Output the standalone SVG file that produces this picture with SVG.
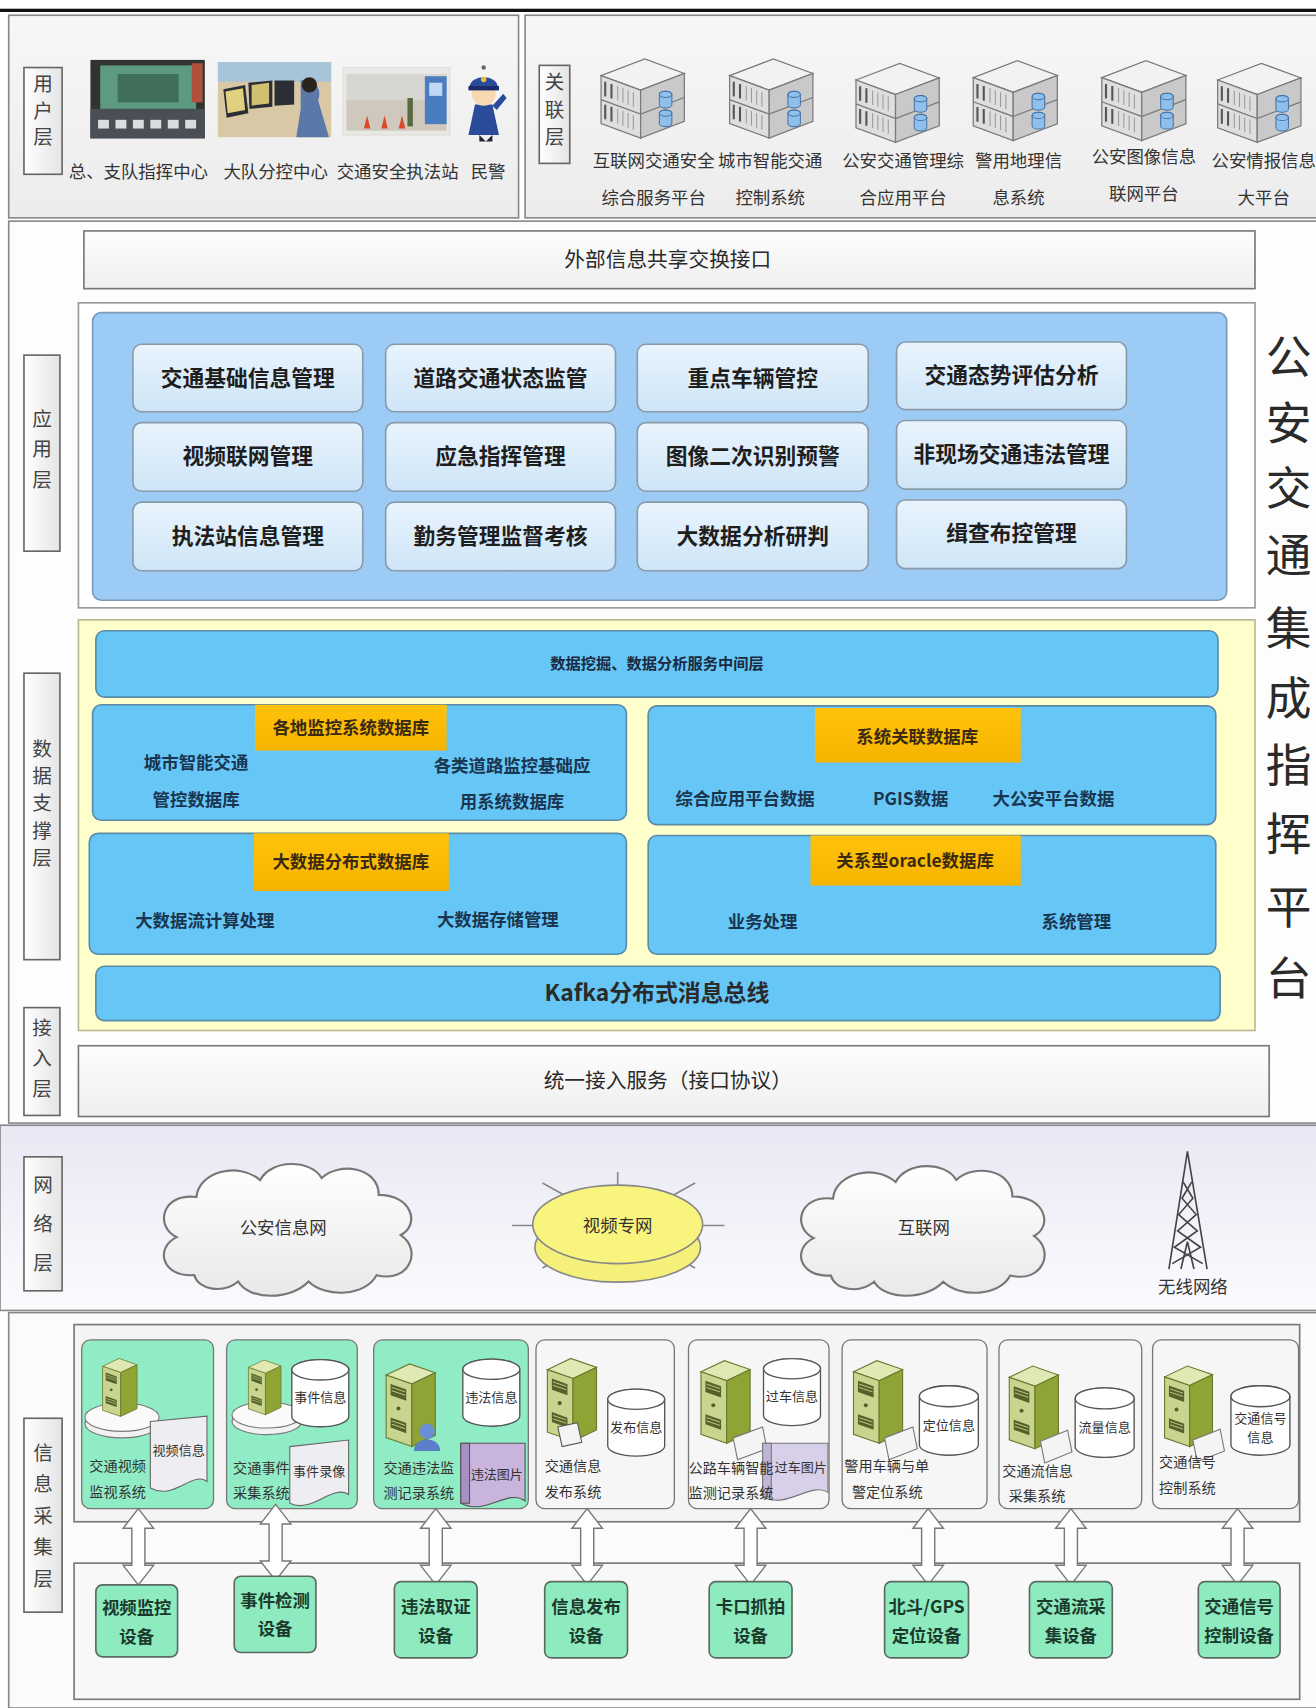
<svg xmlns="http://www.w3.org/2000/svg" width="1316" height="1708" viewBox="0 0 1316 1708">
<style>
text{font-family:"Noto Sans CJK SC","Noto Sans CJK TC",sans-serif;fill:#2a2a2a}
.lbl{font-size:16px;fill:#333}
.side{font-size:18px;fill:#444;text-anchor:middle}
.mod{font-size:20px;font-weight:bold;text-anchor:middle;fill:#1e1e1e}
.db{font-size:16px;font-weight:bold;fill:#1a3550}
.dbc{font-size:16px;font-weight:bold;fill:#1a3550;text-anchor:middle}
.org{font-size:16px;font-weight:bold;fill:#3a2a10;text-anchor:middle}
.bar{font-size:14px;font-weight:bold;text-anchor:middle;fill:#1a2a40}
.sys{font-size:13px;fill:#333}
.sysc{font-size:12px;fill:#333;text-anchor:middle}
.dev{font-size:16px;font-weight:bold;fill:#1c3a2c;text-anchor:middle}
.ctr{text-anchor:middle}
.sidebox{fill:url(#gSide);stroke:#666;stroke-width:1.5}
.modbox{fill:url(#gMod);stroke:#8a9aa8;stroke-width:1.5}
.sysbox{stroke:#777;stroke-width:1.2}
.green{fill:#8fecc4}
.grey{fill:#f6f6f6}
.devbox{fill:#8eebc0;stroke:#5a6a60;stroke-width:1.5}
.arr{fill:#fff;stroke:#777;stroke-width:1.3}
</style>
<defs>
<linearGradient id="gSide" x1="0" y1="0" x2="1" y2="0"><stop offset="0" stop-color="#ffffff"/><stop offset="1" stop-color="#e4e4e4"/></linearGradient>
<linearGradient id="gMod" x1="0" y1="0" x2="0" y2="1"><stop offset="0" stop-color="#e8f4fd"/><stop offset="1" stop-color="#cfe5f7"/></linearGradient>
<linearGradient id="gTop" x1="0" y1="0" x2="0" y2="1"><stop offset="0" stop-color="#f7f7f7"/><stop offset="1" stop-color="#ececec"/></linearGradient>
<linearGradient id="gNet" x1="0" y1="0" x2="0" y2="1"><stop offset="0" stop-color="#e8e8f4"/><stop offset="1" stop-color="#fbfbfe"/></linearGradient>
<linearGradient id="gBar" x1="0" y1="0" x2="0" y2="1"><stop offset="0" stop-color="#fdfdfd"/><stop offset="1" stop-color="#efefef"/></linearGradient>
<linearGradient id="gOrg" x1="0" y1="0" x2="0" y2="1"><stop offset="0" stop-color="#ffc20a"/><stop offset="1" stop-color="#f5b400"/></linearGradient>
<linearGradient id="gCloud" x1="0" y1="0" x2="0" y2="1"><stop offset="0" stop-color="#ffffff"/><stop offset="1" stop-color="#e9e9e9"/></linearGradient>
<symbol id="rack" viewBox="0 0 90 85" overflow="visible">
<path d="M6,22 L48,6 L86,20 L44,36 Z" fill="#f2f2f2" stroke="#7a7a7a" stroke-width="1.2"/>
<path d="M6,22 L44,36 L44,82 L6,68 Z" fill="#dedede" stroke="#7a7a7a" stroke-width="1.2"/>
<path d="M44,36 L86,20 L86,66 L44,82 Z" fill="#c9c9c9" stroke="#7a7a7a" stroke-width="1.2"/>
<path d="M6,45 L44,59 L86,43" fill="none" stroke="#7a7a7a" stroke-width="1.2"/>
<path d="M10,28 L10,42 M10,50 L10,64 M16,30 L16,44 M16,52 L16,66" stroke="#555" stroke-width="2"/>
<path d="M22,32 L22,46 M27,34 L27,48 M32,36 L32,50 M37,38 L37,52 M22,54 L22,68 M27,56 L27,70 M32,58 L32,72 M37,60 L37,74" stroke="#9a9a9a" stroke-width="1"/>
<g fill="#8fc0ec" stroke="#4a72a8" stroke-width="1"><path d="M62,40 a6,3 0 0 1 12,0 v10 a6,3 0 0 1 -12,0 Z"/><path d="M62,58 a6,3 0 0 1 12,0 v10 a6,3 0 0 1 -12,0 Z"/></g>
<g fill="none" stroke="#4a72a8" stroke-width="1"><ellipse cx="68" cy="40" rx="6" ry="3"/><ellipse cx="68" cy="58" rx="6" ry="3"/></g>
</symbol>
<symbol id="tower" viewBox="0 0 50 80" overflow="visible">
<path d="M3,14 L24,4 L47,12 L26,22 Z" fill="#e0e8b4" stroke="#6a7a30" stroke-width="1"/>
<path d="M3,14 L26,22 L26,78 L3,70 Z" fill="#c9d58e" stroke="#6a7a30" stroke-width="1"/>
<path d="M26,22 L47,12 L47,68 L26,78 Z" fill="#8ea434" stroke="#6a7a30" stroke-width="1"/>
<path d="M7,22 L21,27 L21,37 L7,32 Z M7,52 L21,57 L21,66 L7,61 Z" fill="#55602a"/>
<path d="M8,25 L20,29 M8,28 L20,32 M8,55 L20,59 M8,58 L20,62" stroke="#c9d58e" stroke-width="0.8"/>
<circle cx="14" cy="44" r="1.8" fill="#55602a"/>
</symbol>
<symbol id="cyl" viewBox="0 0 60 70" overflow="visible">
<path d="M2,12 A28,10 0 0 1 58,12 L58,58 A28,10 0 0 1 2,58 Z" fill="#fff" stroke="#555" stroke-width="1.3"/>
<ellipse cx="30" cy="12" rx="28" ry="10" fill="#fff" stroke="#555" stroke-width="1.3"/>
</symbol>
<symbol id="cloud" viewBox="0 0 240 130" preserveAspectRatio="none" overflow="visible">
<path d="M36,110 C6,112 0,84 20,74 C0,64 6,32 38,36 C40,12 76,2 96,20 C106,0 142,0 152,18 C168,2 204,8 204,34 C234,34 242,62 224,72 C244,86 232,118 202,110 C192,130 156,132 140,116 C124,134 86,134 76,116 C62,128 40,124 36,110 Z" fill="url(#gCloud)" stroke="#777" stroke-width="2"/>
</symbol>
<path id="darr" d="M0,0 L14,18 L6,18 L6,52 L14,52 L0,70 L-14,52 L-6,52 L-6,18 L-14,18 Z"/>
</defs>

<rect x="0" y="0" width="1316" height="1708" fill="#ffffff"/>
<g transform="scale(1.0894 1.0893)">
<rect x="0" y="8" width="1208" height="3" fill="#111"/>

<g id="user-layer">
<rect x="8" y="14" width="468" height="186" fill="url(#gTop)" stroke="#888" stroke-width="1.5"/>
<rect x="22" y="62" width="35" height="98" class="sidebox"/>
<text class="side"><tspan x="39.5" y="84">用</tspan><tspan x="39.5" y="108">户</tspan><tspan x="39.5" y="132">层</tspan></text>
<g id="img-center">
<rect x="83" y="55" width="105" height="72" fill="#2f3430"/>
<rect x="92" y="60" width="88" height="40" fill="#5e9a80"/>
<rect x="108" y="68" width="56" height="26" fill="#3f6f58"/>
<rect x="83" y="100" width="105" height="27" fill="#4a4f55"/>
<g fill="#d8dde0"><rect x="90" y="110" width="10" height="8"/><rect x="106" y="110" width="10" height="8"/><rect x="122" y="110" width="10" height="8"/><rect x="138" y="110" width="10" height="8"/><rect x="154" y="110" width="10" height="8"/><rect x="170" y="110" width="10" height="8"/></g>
<rect x="176" y="58" width="10" height="36" fill="#b0503a"/>
</g>
<g id="img-sub">
<rect x="200" y="57" width="104" height="69" fill="#d9c8a6"/>
<rect x="200" y="57" width="104" height="18" fill="#a8c4d8"/>
<path d="M205,82 L225,78 L228,104 L208,108 Z" fill="#2b2f35"/>
<path d="M228,76 L250,74 L250,98 L229,100 Z" fill="#2b2f35"/>
<path d="M252,74 L270,74 L270,96 L252,97 Z" fill="#2b2f35"/>
<path d="M207,84 L223,81 L225,101 L209,104 Z" fill="#e0d080"/>
<path d="M231,78 L247,76 L247,95 L231,97 Z" fill="#d0c070"/>
<path d="M276,74 C290,70 296,84 292,92 L302,126 L272,126 L276,100 Z" fill="#5a78a8"/>
<circle cx="284" cy="78" r="7" fill="#2a2420"/>
</g>
<g id="img-station">
<rect x="315" y="62" width="98" height="62" fill="#eae8e4" stroke="#ddd"/>
<rect x="318" y="68" width="92" height="24" fill="#d8d6d2"/>
<rect x="318" y="92" width="92" height="28" fill="#cfc8bc"/>
<rect x="390" y="70" width="20" height="44" fill="#4a7cc0"/>
<rect x="394" y="76" width="12" height="12" fill="#c0d8f4"/>
<g fill="#d84a2a"><path d="M334,118 l3,-12 l3,12 Z"/><path d="M350,118 l3,-12 l3,12 Z"/><path d="M366,118 l3,-12 l3,12 Z"/></g>
<rect x="374" y="90" width="5" height="26" fill="#5a6a40"/>
</g>
<g id="img-police">
<path d="M436,96 L452,96 L458,124 L430,124 Z" fill="#2a4a9a"/>
<path d="M440,124 L440,130 L446,130 Z M452,124 L452,130 L446,130 Z" fill="#223"/>
<circle cx="444" cy="86" r="11" fill="#f8d8b0"/>
<path d="M431,80 C432,68 456,68 457,80 Z" fill="#2a4a9a"/>
<rect x="430" y="79" width="28" height="4" fill="#1a2a6a"/>
<circle cx="444" cy="73" r="2.5" fill="#e8c040"/>
<path d="M452,97 L462,86 L465,90 L456,101 Z" fill="#2a4a9a"/>
<circle cx="444" cy="62" r="2" fill="#666"/>
</g>
<text class="lbl ctr" x="127" y="163">总、支队指挥中心</text>
<text class="lbl ctr" x="253" y="163">大队分控中心</text>
<text class="lbl ctr" x="365" y="163">交通安全执法站</text>
<text class="lbl ctr" x="448" y="163">民警</text>
</g>

<g id="related-layer">
<rect x="482" y="14" width="730" height="186" fill="url(#gTop)" stroke="#888" stroke-width="1.5"/>
<rect x="495" y="60" width="28" height="90" class="sidebox"/>
<text class="side"><tspan x="509" y="82">关</tspan><tspan x="509" y="107">联</tspan><tspan x="509" y="132">层</tspan></text>
<use href="#rack" x="546" y="48" width="86" height="82"/>
<use href="#rack" x="664" y="48" width="86" height="82"/>
<use href="#rack" x="780" y="52" width="86" height="82"/>
<use href="#rack" x="886" y="50" width="90" height="82"/>
<use href="#rack" x="1005" y="50" width="88" height="82"/>
<use href="#rack" x="1112" y="52" width="86" height="82"/>
<text class="lbl ctr" x="600" y="153">互联网交通安全</text><text class="lbl ctr" x="600" y="187">综合服务平台</text>
<text class="lbl ctr" x="707" y="153">城市智能交通</text><text class="lbl ctr" x="707" y="187">控制系统</text>
<text class="lbl ctr" x="829" y="153">公安交通管理综</text><text class="lbl ctr" x="829" y="187">合应用平台</text>
<text class="lbl ctr" x="935" y="153">警用地理信</text><text class="lbl ctr" x="935" y="187">息系统</text>
<text class="lbl ctr" x="1050" y="150">公安图像信息</text><text class="lbl ctr" x="1050" y="184">联网平台</text>
<text class="lbl ctr" x="1160" y="153">公安情报信息</text><text class="lbl ctr" x="1160" y="187">大平台</text>
</g>

<rect x="8" y="203" width="1204" height="828" fill="#fdfdfd" stroke="#888" stroke-width="1.5"/>

<g id="ext-interface">
<rect x="77" y="212" width="1075" height="53" fill="url(#gBar)" stroke="#777" stroke-width="1.5"/>
<text class="ctr" x="613" y="245" font-size="19">外部信息共享交换接口</text>
</g>

<g id="app-layer">
<rect x="72" y="278" width="1080" height="280" fill="#ffffff" stroke="#999" stroke-width="1.5"/>
<rect x="85" y="287" width="1041" height="264" rx="8" fill="#9ccbf5" stroke="#7a9ab8" stroke-width="1.5"/>
<rect x="22" y="326" width="33" height="180" class="sidebox"/>
<text class="side"><tspan x="38.5" y="391">应</tspan><tspan x="38.5" y="419">用</tspan><tspan x="38.5" y="447">层</tspan></text>
</g>
<g id="app-modules">
<rect x="122" y="316" width="211" height="62" rx="8" class="modbox"/><text class="mod" x="227.5" y="354">交通基础信息管理</text>
<rect x="354" y="316" width="211" height="62" rx="8" class="modbox"/><text class="mod" x="459.5" y="354">道路交通状态监管</text>
<rect x="585" y="316" width="212" height="62" rx="8" class="modbox"/><text class="mod" x="691" y="354">重点车辆管控</text>
<rect x="823" y="314" width="211" height="62" rx="8" class="modbox"/><text class="mod" x="928.5" y="352">交通态势评估分析</text>
<rect x="122" y="388" width="211" height="63" rx="8" class="modbox"/><text class="mod" x="227.5" y="426">视频联网管理</text>
<rect x="354" y="388" width="211" height="63" rx="8" class="modbox"/><text class="mod" x="459.5" y="426">应急指挥管理</text>
<rect x="585" y="388" width="212" height="63" rx="8" class="modbox"/><text class="mod" x="691" y="426">图像二次识别预警</text>
<rect x="823" y="386" width="211" height="63" rx="8" class="modbox"/><text class="mod" x="928.5" y="424">非现场交通违法管理</text>
<rect x="122" y="461" width="211" height="63" rx="8" class="modbox"/><text class="mod" x="227.5" y="499">执法站信息管理</text>
<rect x="354" y="461" width="211" height="63" rx="8" class="modbox"/><text class="mod" x="459.5" y="499">勤务管理监督考核</text>
<rect x="585" y="461" width="212" height="63" rx="8" class="modbox"/><text class="mod" x="691" y="499">大数据分析研判</text>
<rect x="823" y="459" width="211" height="63" rx="8" class="modbox"/><text class="mod" x="928.5" y="497">缉查布控管理</text>
</g>

<g id="platform-title">
<text class="ctr" font-size="42" fill="#111"><tspan x="1183" y="343">公</tspan><tspan x="1183" y="404">安</tspan><tspan x="1183" y="464">交</tspan><tspan x="1183" y="525">通</tspan><tspan x="1183" y="592">集</tspan><tspan x="1183" y="656">成</tspan><tspan x="1183" y="718">指</tspan><tspan x="1183" y="781">挥</tspan><tspan x="1183" y="848">平</tspan><tspan x="1183" y="913">台</tspan></text>
</g>

<g id="data-layer">
<rect x="72" y="569" width="1080" height="377" fill="#ffffcc" stroke="#b8b890" stroke-width="1.5"/>
<rect x="22" y="618" width="33" height="263" class="sidebox"/>
<text class="side"><tspan x="38.5" y="694">数</tspan><tspan x="38.5" y="719">据</tspan><tspan x="38.5" y="744">支</tspan><tspan x="38.5" y="769">撑</tspan><tspan x="38.5" y="794">层</tspan></text>
</g>
<g id="data-mining">
<rect x="88" y="579" width="1030" height="61" rx="8" fill="#66c7f7" stroke="#5a8aa8" stroke-width="1.5"/>
<text class="bar" x="603" y="614">数据挖掘、数据分析服务中间层</text>
</g>
<g id="db-local">
<rect x="85" y="647" width="490" height="106" rx="8" fill="#66c7f7" stroke="#5a8aa8" stroke-width="1.5"/>
<rect x="234" y="647" width="176" height="42" fill="url(#gOrg)"/>
<text class="org" x="322" y="674">各地监控系统数据库</text>
<text class="dbc" x="180" y="706">城市智能交通</text><text class="dbc" x="180" y="740">管控数据库</text>
<text class="dbc" x="470" y="709">各类道路监控基础应</text><text class="dbc" x="470" y="742">用系统数据库</text>
</g>
<g id="db-related">
<rect x="595" y="648" width="521" height="109" rx="8" fill="#66c7f7" stroke="#5a8aa8" stroke-width="1.5"/>
<rect x="748" y="650" width="189" height="50" fill="url(#gOrg)"/>
<text class="org" x="842" y="682">系统关联数据库</text>
<text class="dbc" x="684" y="739">综合应用平台数据</text>
<text class="dbc" x="836" y="739">PGIS数据</text>
<text class="dbc" x="967" y="739">大公安平台数据</text>
</g>
<g id="db-bigdata">
<rect x="82" y="765" width="493" height="111" rx="8" fill="#66c7f7" stroke="#5a8aa8" stroke-width="1.5"/>
<rect x="233" y="765" width="179" height="53" fill="url(#gOrg)"/>
<text class="org" x="322" y="797">大数据分布式数据库</text>
<text class="dbc" x="188" y="851">大数据流计算处理</text>
<text class="dbc" x="457" y="850">大数据存储管理</text>
</g>
<g id="db-oracle">
<rect x="595" y="767" width="521" height="109" rx="8" fill="#66c7f7" stroke="#5a8aa8" stroke-width="1.5"/>
<rect x="744" y="767" width="193" height="46" fill="url(#gOrg)"/>
<text class="org" x="840" y="796">关系型oracle数据库</text>
<text class="dbc" x="700" y="852">业务处理</text>
<text class="dbc" x="988" y="852">系统管理</text>
</g>
<g id="kafka">
<rect x="88" y="887" width="1032" height="50" rx="8" fill="#66c7f7" stroke="#5a8aa8" stroke-width="1.5"/>
<text class="ctr" x="603" y="919" font-size="21" font-weight="bold" fill="#1a2a40">Kafka分布式消息总线</text>
</g>

<g id="access-layer">
<rect x="22" y="925" width="33" height="99" class="sidebox"/>
<text class="side"><tspan x="38.5" y="950">接</tspan><tspan x="38.5" y="978">入</tspan><tspan x="38.5" y="1006">层</tspan></text>
<rect x="72" y="960" width="1093" height="65" fill="url(#gBar)" stroke="#777" stroke-width="1.5"/>
<text class="ctr" x="613" y="999" font-size="19" fill="#333">统一接入服务（接口协议）</text>
</g>

<g id="network-layer">
<rect x="0" y="1033" width="1212" height="170" fill="url(#gNet)" stroke="#888" stroke-width="1.5"/>
<rect x="22" y="1062" width="35" height="123" class="sidebox"/>
<text class="side"><tspan x="39.5" y="1094">网</tspan><tspan x="39.5" y="1130">络</tspan><tspan x="39.5" y="1166">层</tspan></text>
</g>
<g id="net-police">
<use href="#cloud" x="142" y="1064" width="242" height="126"/>
<text class="lbl ctr" x="260" y="1133">公安信息网</text>
</g>
<g id="net-video">
<g stroke="#888" stroke-width="1.5"><line x1="567" y1="1076" x2="567" y2="1176"/><line x1="470" y1="1125" x2="665" y2="1125"/><line x1="498" y1="1086" x2="638" y2="1164"/><line x1="638" y1="1086" x2="498" y2="1164"/></g>
<ellipse cx="567" cy="1145" rx="76" ry="32" fill="#f4f07a" stroke="#888" stroke-width="1.5"/>
<ellipse cx="567" cy="1124" rx="78" ry="36" fill="#f8f47e" stroke="#888" stroke-width="1.5"/>
<text class="lbl ctr" x="567" y="1131">视频专网</text>
</g>
<g id="net-internet">
<use href="#cloud" x="727" y="1066" width="238" height="124"/>
<text class="lbl ctr" x="848" y="1133">互联网</text>
</g>
<g id="net-wireless">
<g stroke="#444" stroke-width="1.5" fill="none">
<path d="M1090,1057 L1073,1165 M1090,1057 L1108,1165"/>
<path d="M1086,1085 L1095,1100 L1082,1115 L1099,1130 L1078,1145 L1104,1160 M1094,1085 L1085,1100 L1098,1115 L1081,1130 L1102,1145 L1076,1160"/>
<path d="M1084,1165 L1090,1140 L1096,1165"/>
</g>
<text class="lbl ctr" x="1095" y="1187">无线网络</text>
</g>

<g id="collect-layer">
<rect x="8" y="1205" width="1204" height="363" fill="#fbfbfb" stroke="#888" stroke-width="1.5"/>
<rect x="22" y="1302" width="35" height="178" class="sidebox"/>
<text class="side"><tspan x="39.5" y="1340">信</tspan><tspan x="39.5" y="1369">息</tspan><tspan x="39.5" y="1398">采</tspan><tspan x="39.5" y="1427">集</tspan><tspan x="39.5" y="1456">层</tspan></text>
<rect x="68" y="1216" width="1125" height="181" fill="#f4f4f4" stroke="#777" stroke-width="1.5"/>
<rect x="68" y="1435" width="1125" height="125" fill="#f8f8f8" stroke="#777" stroke-width="1.5"/>
</g>

<g id="sys-video">
<rect x="75" y="1230" width="121" height="155" rx="8" class="sysbox green"/>
<ellipse cx="112" cy="1307" rx="34" ry="13" fill="#f2f2f2" stroke="#777"/>
<ellipse cx="112" cy="1301" rx="34" ry="13" fill="#fafafa" stroke="#777"/>
<use href="#tower" x="92" y="1243" width="36" height="60"/>
<path d="M138,1305 L190,1300 L190,1360 C176,1350 160,1378 138,1366 Z" fill="#eeeef2" stroke="#666"/>
<text class="sysc" x="164" y="1336">视频信息</text>
<text class="sys" x="82" y="1350">交通视频</text><text class="sys" x="82" y="1374">监视系统</text>
</g>
<g id="sys-event">
<rect x="208" y="1230" width="120" height="155" rx="8" class="sysbox green"/>
<ellipse cx="245" cy="1305" rx="32" ry="12" fill="#f2f2f2" stroke="#777"/>
<ellipse cx="245" cy="1299" rx="32" ry="12" fill="#fafafa" stroke="#777"/>
<use href="#tower" x="226" y="1245" width="34" height="56"/>
<use href="#cyl" x="266" y="1245" width="56" height="68"/>
<text class="sysc" x="294" y="1287">事件信息</text>
<path d="M266,1328 L320,1322 L320,1372 C305,1362 286,1390 266,1380 Z" fill="#eeeef2" stroke="#666"/>
<text class="sysc" x="293" y="1355">事件录像</text>
<text class="sys" x="214" y="1352">交通事件</text><text class="sys" x="214" y="1375">采集系统</text>
</g>
<g id="sys-violation">
<rect x="343" y="1230" width="142" height="155" rx="8" class="sysbox green"/>
<use href="#tower" x="351" y="1248" width="52" height="82"/>
<circle cx="392" cy="1314" r="7" fill="#6a8ed8"/>
<path d="M380,1332 C380,1318 404,1318 404,1332 Z" fill="#5a7ec8"/>
<use href="#cyl" x="423" y="1245" width="56" height="67"/>
<text class="sysc" x="451" y="1287">违法信息</text>
<path d="M423,1325 L482,1325 L482,1378 C466,1366 446,1392 423,1380 Z" fill="#c8b4dc" stroke="#555"/>
<rect x="423" y="1325" width="8" height="55" fill="#a890c4" stroke="#555"/>
<text class="sysc" x="456" y="1358">违法图片</text>
<text class="sys" x="352" y="1352">交通违法监</text><text class="sys" x="352" y="1375">测记录系统</text>
</g>
<g id="sys-release">
<rect x="492" y="1230" width="127" height="155" rx="8" class="sysbox grey"/>
<use href="#tower" x="499" y="1243" width="52" height="82"/>
<path d="M512,1310 L530,1306 L534,1324 L516,1328 Z" fill="#f4f4f4" stroke="#555"/>
<use href="#cyl" x="556" y="1272" width="56" height="68"/>
<text class="sysc" x="584" y="1315">发布信息</text>
<text class="sys" x="500" y="1350">交通信息</text><text class="sys" x="500" y="1374">发布系统</text>
</g>
<g id="sys-highway">
<rect x="632" y="1230" width="129" height="155" rx="8" class="sysbox grey"/>
<use href="#tower" x="640" y="1245" width="52" height="82"/>
<path d="M673,1320 L700,1310 L704,1330 L677,1340 Z" fill="#f4f4f4" stroke="#777"/>
<use href="#cyl" x="699" y="1245" width="56" height="66"/>
<text class="sysc" x="727" y="1286">过车信息</text>
<path d="M700,1325 L760,1325 L760,1370 C744,1360 722,1386 700,1374 Z" fill="#d8d0e8" stroke="#777"/>
<rect x="700" y="1325" width="8" height="49" fill="#c0b4d8" stroke="#777"/>
<text class="sysc" x="735" y="1351">过车图片</text>
<text class="sys" x="632" y="1352">公路车辆智能</text><text class="sys" x="632" y="1375">监测记录系统</text>
</g>
<g id="sys-locate">
<rect x="773" y="1230" width="133" height="155" rx="8" class="sysbox grey"/>
<use href="#tower" x="780" y="1245" width="52" height="82"/>
<path d="M812,1320 L838,1310 L842,1330 L816,1340 Z" fill="#f4f4f4" stroke="#777"/>
<use href="#cyl" x="842" y="1270" width="58" height="68"/>
<text class="sysc" x="871" y="1313">定位信息</text>
<text class="sys" x="775" y="1350">警用车辆与单</text><text class="sys" x="782" y="1374">警定位系统</text>
</g>
<g id="sys-flow">
<rect x="917" y="1230" width="131" height="155" rx="8" class="sysbox grey"/>
<use href="#tower" x="923" y="1250" width="52" height="82"/>
<path d="M955,1323 L980,1313 L984,1333 L959,1343 Z" fill="#f4f4f4" stroke="#777"/>
<use href="#cyl" x="985" y="1272" width="58" height="68"/>
<text class="sysc" x="1014" y="1315">流量信息</text>
<text class="sys" x="920" y="1355">交通流信息</text><text class="sys" x="926" y="1378">采集系统</text>
</g>
<g id="sys-signal">
<rect x="1058" y="1230" width="134" height="155" rx="8" class="sysbox grey"/>
<use href="#tower" x="1065" y="1250" width="52" height="80"/>
<path d="M1095,1322 L1120,1312 L1124,1332 L1099,1342 Z" fill="#f4f4f4" stroke="#777"/>
<use href="#cyl" x="1128" y="1270" width="58" height="68"/>
<text class="sysc" x="1157" y="1306">交通信号</text><text class="sysc" x="1157" y="1324">信息</text>
<text class="sys" x="1064" y="1347">交通信号</text><text class="sys" x="1064" y="1371">控制系统</text>
</g>

<g id="connectors" class="arr">
<use href="#darr" x="127" y="1385"/>
<use href="#darr" x="253" y="1381"/>
<use href="#darr" x="400" y="1385"/>
<use href="#darr" x="539" y="1385"/>
<use href="#darr" x="689" y="1385"/>
<use href="#darr" x="852" y="1385"/>
<use href="#darr" x="983" y="1385"/>
<use href="#darr" x="1136" y="1385"/>
</g>

<g id="dev-video"><rect x="88" y="1455" width="75" height="66" rx="6" class="devbox"/><text class="dev" x="125.5" y="1482">视频监控</text><text class="dev" x="125.5" y="1508">设备</text></g>
<g id="dev-event"><rect x="215" y="1447" width="75" height="70" rx="6" class="devbox"/><text class="dev" x="252.5" y="1475">事件检测</text><text class="dev" x="252.5" y="1501">设备</text></g>
<g id="dev-violation"><rect x="362" y="1452" width="76" height="70" rx="6" class="devbox"/><text class="dev" x="400" y="1481">违法取证</text><text class="dev" x="400" y="1507">设备</text></g>
<g id="dev-release"><rect x="500" y="1452" width="76" height="70" rx="6" class="devbox"/><text class="dev" x="538" y="1481">信息发布</text><text class="dev" x="538" y="1507">设备</text></g>
<g id="dev-checkpoint"><rect x="651" y="1452" width="76" height="70" rx="6" class="devbox"/><text class="dev" x="689" y="1481">卡口抓拍</text><text class="dev" x="689" y="1507">设备</text></g>
<g id="dev-gps"><rect x="812" y="1452" width="77" height="70" rx="6" class="devbox"/><text class="dev" x="850.5" y="1481">北斗/GPS</text><text class="dev" x="850.5" y="1507">定位设备</text></g>
<g id="dev-flow"><rect x="945" y="1452" width="76" height="70" rx="6" class="devbox"/><text class="dev" x="983" y="1481">交通流采</text><text class="dev" x="983" y="1507">集设备</text></g>
<g id="dev-signal"><rect x="1100" y="1452" width="75" height="70" rx="6" class="devbox"/><text class="dev" x="1137.5" y="1481">交通信号</text><text class="dev" x="1137.5" y="1507">控制设备</text></g>
</g>
</svg>
